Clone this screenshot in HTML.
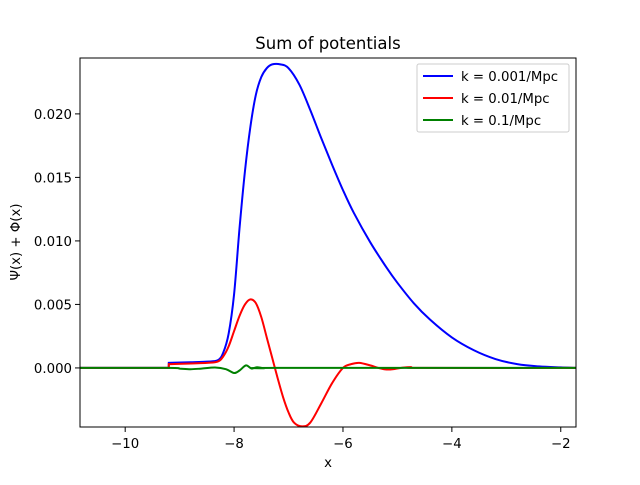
<!DOCTYPE html>
<html><head><meta charset="utf-8"><style>
body{margin:0;background:#fff}
text{font-family:"DejaVu Sans","Liberation Sans",sans-serif;fill:#000}
</style></head><body>
<svg id="c" width="640" height="480" xmlns="http://www.w3.org/2000/svg"></svg>
<script>
const xTicks=[-10,-8,-6,-4,-2];
const xTickLabels=["\u221210","\u22128","\u22126","\u22124","\u22122"];
const yTicks=[0,0.005,0.010,0.015,0.020];
const yTickLabels=["0.000","0.005","0.010","0.015","0.020"];
const seriesNames=["k = 0.001/Mpc","k = 0.01/Mpc","k = 0.1/Mpc"];
const seriesColors=["#0000ff","#ff0000","#008000"];
const blueX=[-10.83,-9.2,-9.199,-8.8,-8.5,-8.3,-8.2,-8.1,-8.0,-7.9,-7.8,-7.7,-7.6,-7.5,-7.4,-7.3,-7.15,-7.0,-6.8,-6.6,-6.4,-6.2,-6.0,-5.8,-5.5,-5.2,-5.0,-4.7,-4.4,-4.0,-3.6,-3.2,-2.8,-2.4,-2.0,-1.72];
const blueY=[0,0,0.0004,0.00045,0.0005,0.0006,0.0012,0.0027,0.0058,0.011,0.0155,0.019,0.0215,0.0229,0.0236,0.0239,0.0239,0.0236,0.0223,0.0203,0.0181,0.0160,0.0140,0.0122,0.0099,0.0079,0.0067,0.0051,0.0038,0.0024,0.0014,0.0007,0.0003,0.00012,0.00004,0];
const redX=[-10.83,-9.2,-9.199,-8.5,-8.3,-8.2,-8.1,-8.0,-7.9,-7.8,-7.7,-7.6,-7.5,-7.4,-7.3,-7.2,-7.1,-7.0,-6.9,-6.75,-6.6,-6.4,-6.2,-6.0,-5.85,-5.7,-5.5,-5.35,-5.2,-5.05,-4.9,-4.75,-4.55,-1.72];
const redY=[0,0,0.0003,0.0004,0.0005,0.0009,0.0017,0.0029,0.0041,0.005,0.0054,0.0051,0.004,0.0024,0.0008,-0.0008,-0.0023,-0.0035,-0.0043,-0.0046,-0.0043,-0.0028,-0.0012,0,0.0003,0.0004,0.0002,0,-0.00012,-0.00008,0.00002,0.00006,0,0];
const greenX=[-10.83,-9.2,-9.0,-8.8,-8.6,-8.35,-8.15,-8.0,-7.9,-7.78,-7.68,-7.58,-7.45,-7.2,-1.72];
const greenY=[0,0,-0.00005,-0.0001,-0.00005,0.00003,-0.0001,-0.0004,-0.0002,0.0002,-0.00005,0.00005,-0.00002,0,0];

const L=80,R=576,T=58,B=427,xmin=-10.83,xmax=-1.72,ymin=-0.00465,ymax=0.0244;
const sx=v=>L+(v-xmin)/(xmax-xmin)*(R-L);
const sy=v=>B-(v-ymin)/(ymax-ymin)*(B-T);
const svg=document.getElementById('c');
const NS="http://www.w3.org/2000/svg";
function mk(tag,attrs,parent){const e=document.createElementNS(NS,tag);for(const k in attrs)e.setAttribute(k,attrs[k]);(parent||svg).appendChild(e);return e;}
function path(xs,ys){
  const p=xs.map((x,i)=>[sx(x),sy(ys[i])]);
  let d="M"+p[0][0]+","+p[0][1];
  for(let i=0;i<p.length-1;i++){
    const p0=p[Math.max(0,i-1)],p1=p[i],p2=p[i+1],p3=p[Math.min(p.length-1,i+2)];
    if(p2[0]-p1[0]<1){d+="L"+p2[0]+","+p2[1];continue;}
    const c1=[p1[0]+(p2[0]-p0[0])/6,p1[1]+(p2[1]-p0[1])/6];
    const c2=[p2[0]-(p3[0]-p1[0])/6,p2[1]-(p3[1]-p1[1])/6];
    if(p1[0]-p0[0]<1){c1[0]=p1[0]+(p2[0]-p1[0])/3;c1[1]=p1[1]+(p2[1]-p1[1])/3;}
    if(p3[0]-p2[0]<1){c2[0]=p2[0]-(p2[0]-p1[0])/3;c2[1]=p2[1]-(p2[1]-p1[1])/3;}
    d+="C"+c1+" "+c2+" "+p2;
  }
  return d;
}
const title=mk('text',{x:328,y:49,'text-anchor':'middle','font-size':16.5});title.textContent="Sum of potentials";


const clip=mk('clipPath',{id:'cp'});mk('rect',{x:L,y:T,width:R-L,height:B-T},clip);
const plot=mk('g',{'clip-path':'url(#cp)'});


const all=[[blueX,blueY],[redX,redY],[greenX,greenY]];
const lineNames=['line-k-0001','line-k-001','line-k-01'];
all.forEach((s,i)=>{const e=mk('path',{d:path(s[0],s[1]),fill:'none',stroke:seriesColors[i],'stroke-width':2},plot);

});
const frame=mk('rect',{x:L,y:T,width:R-L,height:B-T,fill:'none',stroke:'#000','stroke-width':1});


xTicks.forEach((v,i)=>{const x=sx(v);mk('line',{x1:x,x2:x,y1:B,y2:B+5,stroke:'#000','stroke-width':1});
const t=mk('text',{x:x,y:B+21,'text-anchor':'middle','font-size':13.3});t.textContent=xTickLabels[i];

});
yTicks.forEach((v,i)=>{const y=sy(v);mk('line',{x1:L,x2:L-5,y1:y,y2:y,stroke:'#000','stroke-width':1});
const t=mk('text',{x:L-8,y:y+5,'text-anchor':'end','font-size':13.3});t.textContent=yTickLabels[i];

});
const xl=mk('text',{x:328,y:467,'text-anchor':'middle','font-size':13.3});xl.textContent="x";


const yl=mk('text',{x:0,y:0,'text-anchor':'middle','font-size':13.3,transform:'translate(20,242) rotate(-90)'});yl.textContent="\u03a8(x) + \u03a6(x)";


const lg=mk('g',{});


mk('rect',{x:417,y:64,width:152,height:68,rx:2,fill:'#fff','fill-opacity':0.8,stroke:'#ccc','stroke-width':1},lg);
seriesNames.forEach((n,i)=>{const y=76+i*22;
const e=mk('g',{},lg);


mk('line',{x1:423,x2:453,y1:y,y2:y,stroke:seriesColors[i],'stroke-width':2},e);
const t=mk('text',{x:461,y:y+5,'font-size':13.3},e);t.textContent=n;});
</script>
</body></html>
